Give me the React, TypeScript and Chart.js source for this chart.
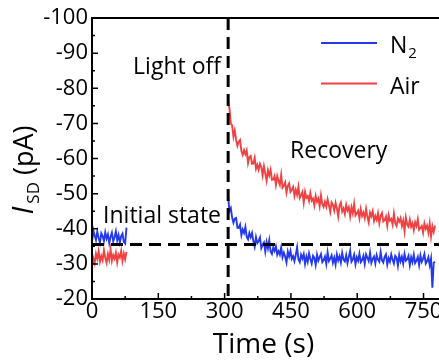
import React, { useEffect, useRef } from 'react';
import { Chart, registerables } from 'chart.js';
Chart.register(...registerables);

// ---- data ----
const sampleStep = 3; // s between samples
const initialStart = 0; // s
const recoveryStart = 308; // s (light switched off)

const n2Initial = [
  -36.2, -39.6, -38.1, -36.8, -39.2, -37.4, -36.0, -38.7, -37.9, -36.5,
  -39.0, -37.2, -38.4, -35.9, -37.7, -38.9, -36.4, -37.6, -39.3, -36.7,
  -38.2, -36.1, -37.9, -38.6, -36.3, -35.8, -40.3,
];
const airInitial = [
  -29.4, -31.6, -30.2, -32.9, -31.4, -33.6, -30.6, -32.2, -31.0, -33.9,
  -31.7, -30.3, -32.8, -31.2, -34.1, -30.9, -32.5, -31.5, -33.2, -30.4,
  -32.6, -31.8, -33.7, -30.8, -32.9, -31.3, -33.4,
];
const n2Recovery = [
  -49.0, -45.1, -45.9, -43.2, -41.7, -42.9, -43.1, -40.3, -40.3, -41.2,
  -38.2, -39.8, -38.8, -40.5, -37.7, -37.0, -38.8, -37.6, -38.8, -36.5,
  -34.9, -37.6, -35.9, -36.5, -37.5, -34.5, -35.5, -36.1, -33.5, -36.2,
  -34.4, -36.7, -33.5, -32.8, -34.7, -33.7, -35.0, -32.6, -33.6, -32.6,
  -34.7, -31.9, -33.2, -32.1, -30.4, -33.5, -32.1, -33.7, -31.4, -32.2,
  -30.8, -32.6, -34.7, -31.3, -30.5, -32.6, -31.5, -32.8, -30.0, -32.1,
  -30.6, -33.0, -31.4, -30.1, -32.3, -31.7, -29.7, -32.6, -30.9, -31.9,
  -32.8, -30.5, -31.1, -32.1, -30.0, -33.3, -30.8, -31.5, -32.4, -30.3,
  -31.8, -29.8, -32.7, -31.0, -32.2, -30.4, -33.1, -31.2, -30.7, -32.5,
  -30.2, -32.0, -33.8, -30.6, -31.3, -32.6, -29.9, -31.9, -30.9, -32.9,
  -30.5, -31.1, -32.3, -30.0, -32.7, -31.8, -30.8, -33.2, -30.3, -31.4,
  -32.1, -30.1, -32.5, -31.2, -30.6, -33.4, -31.0, -30.4, -32.0, -32.7,
  -29.8, -31.6, -30.6, -32.7, -31.2, -30.1, -32.3, -31.8, -29.5, -32.5,
  -30.7, -32.0, -30.1, -32.8, -30.9, -31.3, -32.3, -29.6, -31.9, -30.5,
  -32.6, -30.2, -30.9, -32.0, -29.7, -32.4, -30.6, -31.5, -32.8, -30.1,
  -30.8, -31.9, -29.6, -31.5, -23.2, -30.3, -30.6,
];
const airRecovery = [
  -76.2, -74.2, -69.9, -69.4, -66.2, -68.0, -65.3, -63.6, -64.8, -65.3,
  -62.1, -61.0, -62.4, -61.2, -62.3, -58.7, -60.4, -60.7, -58.5, -58.6,
  -60.2, -57.1, -58.2, -56.8, -58.5, -57.6, -55.2, -57.8, -55.7, -53.7,
  -56.6, -55.2, -56.8, -53.9, -54.0, -55.0, -52.5, -55.0, -53.6, -52.5,
  -55.4, -51.7, -52.2, -53.2, -50.3, -52.2, -52.9, -50.5, -51.1, -51.9,
  -49.3, -51.1, -49.7, -52.0, -48.8, -49.6, -50.5, -47.4, -50.5, -48.8,
  -49.3, -47.9, -50.2, -48.0, -48.6, -46.7, -49.4, -47.7, -48.6, -46.4,
  -49.5, -47.0, -46.2, -47.7, -46.3, -48.4, -46.7, -44.8, -47.5, -46.8,
  -45.2, -47.4, -45.8, -43.5, -46.6, -47.5, -44.9, -45.8, -44.2, -46.8,
  -45.2, -46.1, -43.5, -46.1, -44.4, -47.1, -43.8, -44.4, -45.1, -43.0,
  -45.6, -43.6, -44.6, -43.0, -45.7, -43.4, -41.8, -44.6, -43.6, -45.0,
  -42.2, -43.6, -42.5, -44.4, -41.6, -43.7, -44.5, -42.1, -42.5, -43.5,
  -40.9, -43.9, -42.3, -42.8, -41.2, -44.3, -41.6, -40.8, -42.9, -42.0,
  -43.0, -40.8, -42.3, -39.3, -43.2, -41.2, -40.6, -42.6, -40.6, -41.6,
  -39.6, -41.9, -40.8, -42.7, -39.7, -40.2, -40.8, -38.9, -41.5, -40.0,
  -40.9, -38.9, -41.5, -37.8, -40.7, -39.1, -40.9,
];

const xTicks = [0, 150, 300, 450, 600, 750];
const xMinorTicks = [75, 225, 375, 525, 675];
const yTicks = [-100, -90, -80, -70, -60, -50, -40, -30, -20];
const yMinorTicks = [-95, -85, -75, -65, -55, -45, -35, -25];
const xRange = [0, 785];
const yRange = [-100, -20];
const lightOffTime = 308;
const initialLevel = -35.5;

const seriesLabels = ['N', 'Air'];
const blue = 'rgb(36,56,238)';
const red = 'rgb(240,66,66)';

const annotations = [
  { text: 'Light off', t: 93, v: -84 },
  { text: 'Recovery', t: 448, v: -60.1 },
  { text: 'Initial state', t: 25, v: -41.6 },
];

const toPoints = (start: number, vals: number[]) =>
  vals.map((v, i) => ({ x: start + i * sampleStep, y: v }));

const FONT = '"Open Sans", "DejaVu Sans", sans-serif';

const decorPlugin = {
  id: 'decor',
  afterDatasetsDraw(chart: any) {
    const { ctx, chartArea: a, scales } = chart;
    const x = scales.x, y = scales.y;
    ctx.save();
    ctx.strokeStyle = '#000';
    ctx.lineWidth = 2;
    ctx.beginPath();
    ctx.moveTo(a.left, a.top); ctx.lineTo(a.right, a.top);
    ctx.moveTo(a.left, a.top - 1); ctx.lineTo(a.left, a.bottom + 1);
    ctx.moveTo(a.left - 1, a.bottom); ctx.lineTo(a.right, a.bottom);
    ctx.stroke();
    ctx.lineWidth = 1.5;
    ctx.beginPath();
    xTicks.forEach((t) => { const p = x.getPixelForValue(t); ctx.moveTo(p, a.bottom); ctx.lineTo(p, a.bottom - 6); });
    xMinorTicks.forEach((t) => { const p = x.getPixelForValue(t); ctx.moveTo(p, a.bottom); ctx.lineTo(p, a.bottom - 3); });
    yTicks.forEach((t) => { const p = y.getPixelForValue(t); ctx.moveTo(a.left, p); ctx.lineTo(a.left + 6, p); });
    yMinorTicks.forEach((t) => { const p = y.getPixelForValue(t); ctx.moveTo(a.left, p); ctx.lineTo(a.left + 3, p); });
    ctx.stroke();

    // annotations
    ctx.fillStyle = '#000';
    ctx.textBaseline = 'alphabetic';
    ctx.textAlign = 'left';
    ctx.font = `23px ${FONT}`;
    annotations.forEach((an) => {
      ctx.fillText(an.text, x.getPixelForValue(an.t), y.getPixelForValue(an.v));
    });

    // legend
    const lx0 = 321, lx1 = 377, tx = 390;
    const rows = [
      { color: blue, ly: 43, base: 53, label: seriesLabels[0], sub: '2' },
      { color: red, ly: 83.5, base: 94, label: seriesLabels[1], sub: '' },
    ];
    rows.forEach((r) => {
      ctx.strokeStyle = r.color;
      ctx.lineWidth = 2;
      ctx.beginPath();
      ctx.moveTo(lx0, r.ly); ctx.lineTo(lx1, r.ly);
      ctx.stroke();
      ctx.font = `23px ${FONT}`;
      ctx.fillText(r.label, tx, r.base);
      if (r.sub) {
        const w = ctx.measureText(r.label).width;
        ctx.font = `15px ${FONT}`;
        ctx.fillText(r.sub, tx + w + 1, r.base + 5);
      }
    });

    // axis titles
    ctx.font = `28px ${FONT}`;
    ctx.textAlign = 'center';
    ctx.fillText('Time (s)', (a.left + a.right) / 2 - 2, 353);

    ctx.save();
    ctx.translate(33, 170);
    ctx.rotate(-Math.PI / 2);
    ctx.textAlign = 'left';
    const big = `27px ${FONT}`;
    const ital = `italic 29px ${FONT}`;
    const small = `17px ${FONT}`;
    ctx.font = ital; const wI = ctx.measureText('I').width;
    ctx.font = small; const wS = ctx.measureText('SD').width;
    ctx.font = big; const wP = ctx.measureText(' (pA)').width;
    let cx = -(wI + wS + 3 + wP) / 2;
    ctx.font = ital; ctx.fillText('I', cx, 0); cx += wI + 3;
    ctx.font = small; ctx.fillText('SD', cx, 6); cx += wS;
    ctx.font = big; ctx.fillText(' (pA)', cx, 0);
    ctx.restore();

    ctx.restore();
  },
};

export default function App() {
  const ref = useRef<HTMLCanvasElement>(null);
  useEffect(() => {
    if (!ref.current) return;
    const chart = new Chart(ref.current, {
      type: 'line',
      data: {
        datasets: [
          {
            label: 'light-off',
            data: [{ x: lightOffTime, y: yRange[0] }, { x: lightOffTime, y: yRange[1] }],
            borderColor: '#000', borderWidth: 3, borderDash: [12, 7], pointRadius: 0,
          },
          {
            label: 'initial-level',
            data: [{ x: xRange[0], y: initialLevel }, { x: xRange[1], y: initialLevel }],
            borderColor: '#000', borderWidth: 3, borderDash: [12, 7], pointRadius: 0,
          },
          { label: 'N2 initial', data: toPoints(initialStart, n2Initial), borderColor: blue, borderWidth: 1.9, pointRadius: 0 },
          { label: 'N2', data: toPoints(recoveryStart, n2Recovery), borderColor: blue, borderWidth: 1.9, pointRadius: 0 },
          { label: 'Air initial', data: toPoints(initialStart, airInitial), borderColor: red, borderWidth: 1.9, pointRadius: 0 },
          { label: 'Air', data: toPoints(recoveryStart, airRecovery), borderColor: red, borderWidth: 1.9, pointRadius: 0 },
        ],
      },
      options: {
        responsive: false,
        animation: false,
        devicePixelRatio: 1,
        layout: { padding: { top: 18, left: 0, right: 0, bottom: 0 } },
        plugins: { legend: { display: false }, tooltip: { enabled: false } },
        elements: { line: { tension: 0 } },
        scales: {
          x: {
            type: 'linear',
            min: xRange[0], max: xRange[1],
            grid: { display: false, drawTicks: false },
            border: { display: false },
            ticks: { font: { family: FONT, size: 22 }, color: '#000', padding: 0, maxRotation: 0, autoSkip: false },
            afterBuildTicks: (s: any) => { s.ticks = xTicks.map((v) => ({ value: v })); },
            afterFit: (s: any) => { s.height = 64; s.paddingLeft = 0; s.paddingRight = 0; },
          },
          y: {
            type: 'linear',
            min: yRange[0], max: yRange[1], reverse: true,
            grid: { display: false, drawTicks: false },
            border: { display: false },
            ticks: { font: { family: FONT, size: 22 }, color: '#000', padding: 4, autoSkip: false },
            afterBuildTicks: (s: any) => { s.ticks = yTicks.map((v) => ({ value: v })); },
            afterFit: (s: any) => { s.width = 92; s.paddingTop = 0; s.paddingBottom = 0; },
          },
        },
      },
      plugins: [decorPlugin],
    });
    return () => chart.destroy();
  }, []);
  return (
    <div style={{ position: 'fixed', left: 0, top: 0, width: 439, height: 363, background: '#fff' }}>
      <canvas ref={ref} width={439} height={363} />
    </div>
  );
}
